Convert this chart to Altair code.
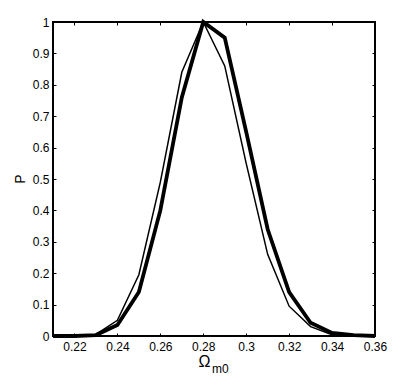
import altair as alt
import pandas as pd

omega = [0.21, 0.22, 0.23, 0.24, 0.25, 0.26, 0.27, 0.28, 0.29, 0.30, 0.31, 0.32, 0.33, 0.34, 0.35, 0.36]
p_thin = [0.0, 0.0, 0.005, 0.05, 0.195, 0.49, 0.84, 1.0, 0.86, 0.55, 0.26, 0.095, 0.03, 0.004, 0.001, 0.0]
p_thick = [0.0, 0.0, 0.003, 0.035, 0.14, 0.40, 0.76, 1.0, 0.95, 0.65, 0.34, 0.14, 0.042, 0.01, 0.003, 0.0]

x_ticks = [0.22, 0.24, 0.26, 0.28, 0.3, 0.32, 0.34, 0.36]
y_ticks = [0, 0.1, 0.2, 0.3, 0.4, 0.5, 0.6, 0.7, 0.8, 0.9, 1]

rows = []
for name, vals in [("thin", p_thin), ("thick", p_thick)]:
    for xv, yv in zip(omega, vals):
        rows.append({"omega": xv, "P": yv, "series": name})
df = pd.DataFrame(rows)

FONT = "Liberation Sans"
W, H = 322, 314

xscale = alt.Scale(domain=[0.21, 0.36], nice=False, zero=False)
yscale = alt.Scale(domain=[0, 1], nice=False)

common_axis = dict(domain=False, grid=False, tickSize=3, offset=-3, tickColor="black",
                   tickWidth=1, labelFont=FONT, labelFontSize=12, labelColor="black",
                   labelFlush=False, labelOverlap=False)

xb = alt.Axis(values=x_ticks, format="~g", orient="bottom", title=None, labelPadding=5, **common_axis)
yl = alt.Axis(values=y_ticks, format="~g", orient="left", title=None, labelPadding=4, **common_axis)
xt = alt.Axis(values=x_ticks, orient="top", title=None, labels=False, **common_axis)
yr = alt.Axis(values=y_ticks, orient="right", title=None, labels=False, **common_axis)

thin = alt.Chart(df[df.series == "thin"]).mark_line(color="black", strokeWidth=1.5).encode(
    x=alt.X("omega:Q", scale=xscale, axis=xb),
    y=alt.Y("P:Q", scale=yscale, axis=yl),
)
thick = alt.Chart(df[df.series == "thick"]).mark_line(color="black", strokeWidth=3.8).encode(
    x=alt.X("omega:Q", scale=xscale, axis=xt),
    y=alt.Y("P:Q", scale=yscale, axis=yr),
)

lbl = pd.DataFrame({"t": ["Ω"], "s": ["m0"], "p": ["P"]})
omega_txt = alt.Chart(lbl).mark_text(font=FONT, fontSize=16, align="center", baseline="alphabetic", color="black").encode(
    text="t:N", x=alt.value(151.5), y=alt.value(345))
sub_txt = alt.Chart(lbl).mark_text(font=FONT, fontSize=12, align="left", baseline="alphabetic", color="black").encode(
    text="s:N", x=alt.value(159), y=alt.value(351))
p_txt = alt.Chart(lbl).mark_text(font=FONT, fontSize=14, align="center", baseline="middle", angle=270, color="black").encode(
    text="p:N", x=alt.value(-32), y=alt.value(157))

chart = alt.layer(thin, thick, omega_txt, sub_txt, p_txt).resolve_axis(x="independent", y="independent").properties(
    width=W, height=H,
    autosize=alt.AutoSizeParams(type="none"),
    padding={"left": 45, "top": 14, "right": 32, "bottom": 44},
).configure(background="white").configure_view(stroke="black", strokeWidth=2)

chart.save("out.html", embed_options={"renderer": "svg", "actions": False})
